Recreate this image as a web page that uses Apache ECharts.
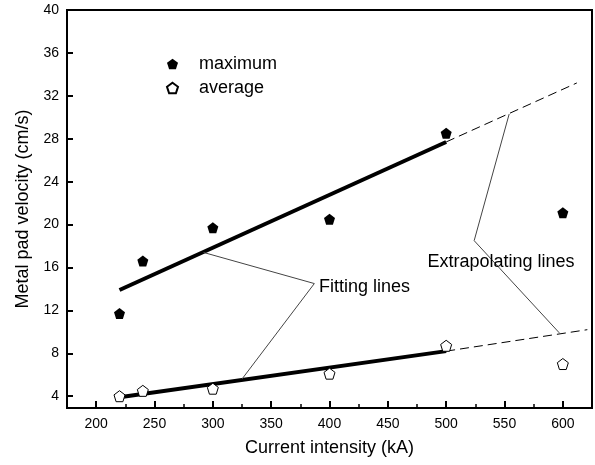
<!DOCTYPE html>
<html>
<head>
<meta charset="utf-8">
<script src="https://cdn.jsdelivr.net/npm/echarts@6/dist/echarts.min.js"></script>
<style>
  html, body { margin: 0; padding: 0; background: #fff; }
  #chart { width: 595px; height: 465px; }
</style>
</head>
<body>
<div id="chart"></div>
<script>
// measured points (kA, cm/s)
const current = [220, 240, 300, 400, 500, 600]
const maximum = [11.7, 16.6, 19.7, 20.5, 28.5, 21.1]
const average = [4.0, 4.5, 4.7, 6.1, 8.7, 7.0]

// fitted and extrapolated lines
const fitMax = [[220, 13.9], [500, 27.7]]
const extMax = [[500, 27.7], [612, 33.2]]
const fitAvg = [[220, 3.9], [500, 8.2]]
const extAvg = [[500, 8.2], [621, 10.2]]

// pointer lines of the annotations
const fitPointer = [[292, 17.4], [387, 14.5], [325, 5.6]]
const extPointer = [[554, 30.3], [524, 18.5], [597, 9.9]]
const notes = [
  { text: 'Fitting lines', at: [391, 14.2] },
  { text: 'Extrapolating lines', at: [484, 16.5] }
]

const xTicks = [200, 250, 300, 350, 400, 450, 500, 550, 600]
const xMinor = [175, 225, 275, 325, 375, 425, 475, 525, 575, 625]
const yTicks = [4, 8, 12, 16, 20, 24, 28, 32, 36, 40]

const pentagon = 'path://M0,-10 L9.51,-3.09 L5.88,8.09 L-5.88,8.09 L-9.51,-3.09 Z'
const font = 'Liberation Sans, Arial, sans-serif'

const mycharts = echarts.init(document.getElementById('chart'))

const lineSeries = (data, width, dash, color) => ({
  type: 'line',
  data: data,
  showSymbol: false,
  symbol: 'none',
  silent: true,
  lineStyle: { color: color || '#000', width: width, type: dash || 'solid' },
  z: 3
})

mycharts.setOption({
  animation: false,
  textStyle: { fontFamily: font },
  grid: {
    left: 67, right: 3, top: 10, bottom: 57,
    show: true, borderColor: '#000', borderWidth: 2
  },
  legend: {
    left: 161, top: 50, orient: 'vertical',
    itemWidth: 11, itemHeight: 11, itemGap: 6,
    textStyle: { fontSize: 18, color: '#000', padding: [0, 0, 0, 16] },
    data: [
      { name: 'maximum', icon: pentagon },
      { name: 'average', icon: pentagon }
    ]
  },
  xAxis: [
    {
      type: 'value', min: 175, max: 625,
      name: 'Current intensity (kA)', nameLocation: 'middle', nameGap: 31,
      nameTextStyle: { fontSize: 18, color: '#000' },
      axisLine: { lineStyle: { color: '#000', width: 2 } },
      axisTick: { inside: true, length: 7, customValues: xTicks, lineStyle: { color: '#000', width: 2 } },
      axisLabel: { fontSize: 14, color: '#000', margin: 9, customValues: xTicks },
      splitLine: { show: false }
    },
    {
      type: 'value', min: 175, max: 625, position: 'bottom',
      axisLine: { show: false },
      axisTick: { inside: true, length: 4, customValues: xMinor, lineStyle: { color: '#000', width: 1.5 } },
      axisLabel: { show: false },
      splitLine: { show: false }
    }
  ],
  yAxis: {
    type: 'value', min: 2.9, max: 40,
    name: 'Metal pad velocity (cm/s)', nameLocation: 'middle', nameGap: 32,
    nameTextStyle: { fontSize: 18, color: '#000' },
    axisLine: { lineStyle: { color: '#000', width: 2 } },
    axisTick: { inside: true, length: 6, customValues: yTicks, lineStyle: { color: '#000', width: 2 } },
    axisLabel: { fontSize: 14, color: '#000', margin: 8, customValues: yTicks },
    splitLine: { show: false }
  },
  series: [
    lineSeries(fitMax, 4),
    lineSeries(extMax, 1, [9, 5]),
    lineSeries(fitAvg, 4),
    lineSeries(extAvg, 1, [9, 5]),
    lineSeries(fitPointer, 1, 'solid', '#444'),
    lineSeries(extPointer, 1, 'solid', '#444'),
    {
      name: 'maximum', type: 'scatter', symbol: pentagon, symbolSize: 11,
      itemStyle: { color: '#000', opacity: 1 },
      data: current.map((c, i) => [c, maximum[i]]),
      z: 5
    },
    {
      name: 'average', type: 'scatter', symbol: pentagon, symbolSize: 11,
      itemStyle: { color: '#fff', borderColor: '#000', borderWidth: 1, opacity: 1 },
      data: current.map((c, i) => [c, average[i]]),
      z: 5
    },
    {
      type: 'scatter', symbolSize: 0, silent: true,
      itemStyle: { opacity: 1 },
      data: notes.map(n => ({ value: n.at, name: n.text })),
      label: {
        show: true, position: 'right', distance: 0, opacity: 1,
        formatter: p => p.name, fontSize: 18, color: '#000', fontFamily: font
      },
      z: 6
    }
  ]
})
</script>
</body>
</html>
